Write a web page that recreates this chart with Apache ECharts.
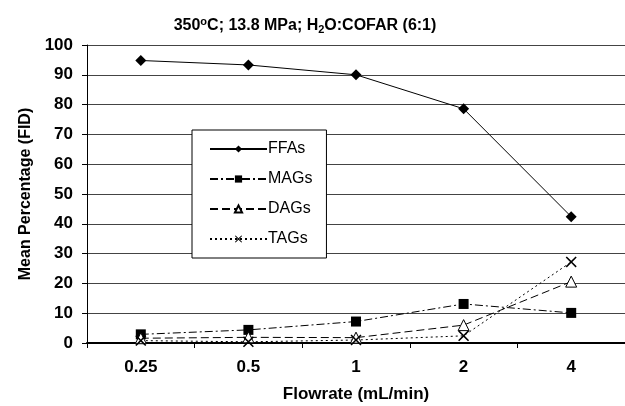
<!DOCTYPE html>
<html>
<head>
<meta charset="utf-8">
<script src="https://cdn.jsdelivr.net/npm/echarts@6/dist/echarts.min.js"></script>
<style>
  html, body { margin: 0; padding: 0; background: #fff; }
  #chart { width: 625px; height: 406px; }
</style>
</head>
<body>
<div id="chart"></div>
<script>
// flowrates (mL/min)
const flowrates = ['0.25', '0.5', '1', '2', '4']
const yTicks = [0, 10, 20, 30, 40, 50, 60, 70, 80, 90, 100]

// mean percentage values (FID)
const ffas = [94.8, 93.3, 90.0, 78.6, 42.4]
const mags = [2.9, 4.4, 7.2, 13.1, 10.1]
const dags = [1.6, 1.9, 1.8, 6.0, 20.6]
const tags = [0.8, 0.4, 1.0, 2.4, 27.2]

const FONT = 'Liberation Sans, Arial, sans-serif'

// X marker drawn as a thin filled shape
const crossPath = 'path://M0,1L1,0L5,4L9,0L10,1L6,5L10,9L9,10L5,6L1,10L0,9L4,5Z'

const chart = echarts.init(document.getElementById('chart'))

const mkSeries = (name, data, symbol, size, lineType, itemStyle) => ({
  name,
  type: 'line',
  data,
  symbol,
  symbolSize: size,
  showAllSymbol: true,
  lineStyle: { color: '#000', width: 1, type: lineType },
  itemStyle: Object.assign({ color: '#000' }, itemStyle || {}),
  emphasis: { disabled: true },
  z: 3
})

chart.setOption({
  animation: false,
  title: {
    text: '350{sup|o}C; 13.8 MPa; H{sub|2}O:COFAR (6:1)',
    left: 300,
    textAlign: 'center',
    top: 11,
    textStyle: {
      fontFamily: FONT,
      fontSize: 16,
      fontWeight: 'bold',
      color: '#000',
      rich: {
        sup: { fontFamily: FONT, fontSize: 11, fontWeight: 'bold', verticalAlign: 'top', padding: [0, 0, 8, 0], color: '#000' },
        sub: { fontFamily: FONT, fontSize: 11, fontWeight: 'bold', verticalAlign: 'bottom', padding: [6, 0, 0, 0], color: '#000' }
      }
    }
  },
  legend: {
    orient: 'vertical',
    left: 192,
    top: 130,
    width: 135,
    padding: [10, 14, 10, 17],
    itemWidth: 57,
    itemHeight: 9,
    itemGap: 12,
    backgroundColor: '#fff',
    borderColor: '#000',
    borderWidth: 1,
    textStyle: { fontFamily: FONT, fontSize: 16, color: '#000', padding: [0, 0, 0, -4], lineHeight: 18 },
    data: ['FFAs', 'MAGs', 'DAGs', 'TAGs']
  },
  grid: { left: 87, right: 0, top: 45, bottom: 63, outerBoundsMode: 'none' },
  xAxis: {
    type: 'category',
    data: flowrates,
    name: 'Flowrate (mL/min)',
    nameLocation: 'middle',
    nameGap: 43,
    nameTextStyle: { fontFamily: FONT, fontSize: 17, fontWeight: 'bold', color: '#000' },
    axisLine: { lineStyle: { color: '#000', width: 2 } },
    axisTick: { show: true, length: 5, lineStyle: { color: '#000' } },
    axisLabel: { fontFamily: FONT, fontSize: 17, fontWeight: 'bold', color: '#000', margin: 16 },
    splitLine: { show: false }
  },
  yAxis: {
    type: 'value',
    min: yTicks[0],
    max: yTicks[yTicks.length - 1],
    interval: 10,
    name: 'Mean Percentage (FID)',
    nameLocation: 'middle',
    nameGap: 51,
    nameTextStyle: { fontFamily: FONT, fontSize: 16, fontWeight: 'bold', color: '#000' },
    axisLine: { show: true, lineStyle: { color: '#000', width: 1 } },
    axisTick: { show: true, length: 5, lineStyle: { color: '#000' } },
    axisLabel: { fontFamily: FONT, fontSize: 17, fontWeight: 'bold', color: '#000', margin: 14 },
    splitLine: { show: true, lineStyle: { color: '#444', width: 1 } }
  },
  series: [
    mkSeries('FFAs', ffas, 'diamond', 11, 'solid'),
    mkSeries('MAGs', mags, 'rect', 10, [8, 3, 2, 3]),
    mkSeries('DAGs', dags, 'triangle', 11, [8, 4], { color: '#fff', borderColor: '#000', borderWidth: 1 }),
    mkSeries('TAGs', tags, crossPath, 11, [2, 3])
  ]
})
</script>
</body>
</html>
